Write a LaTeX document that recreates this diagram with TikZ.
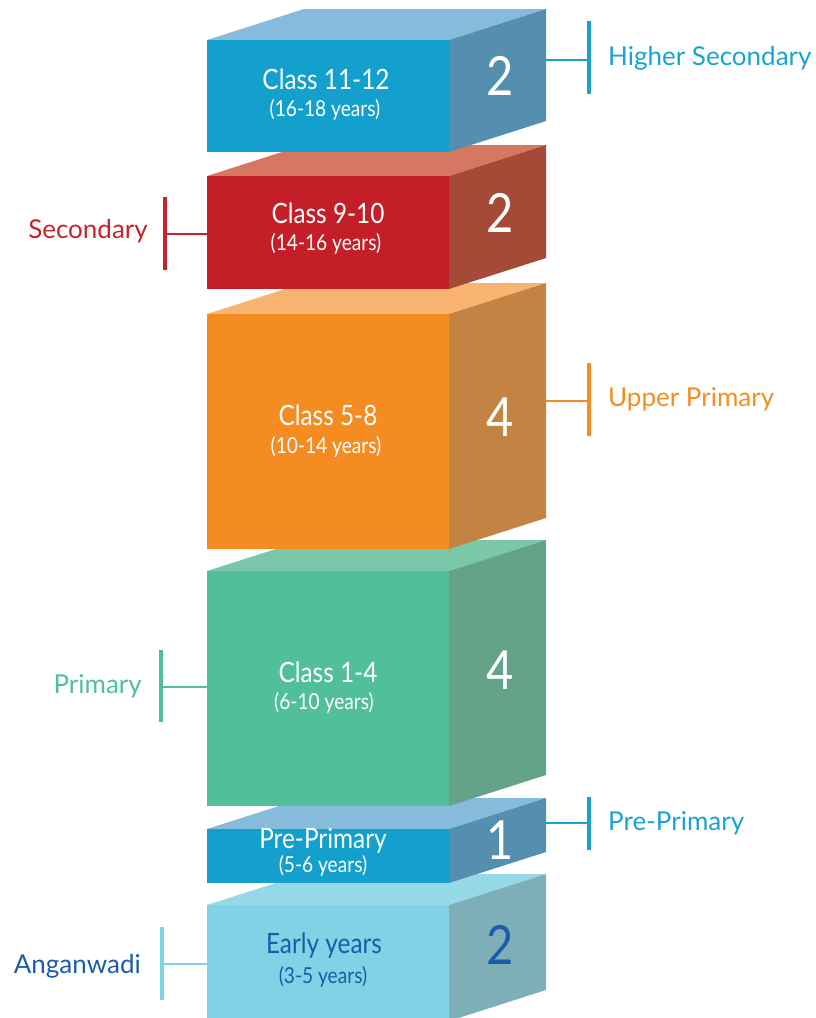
\documentclass[tikz,border=0pt]{standalone}
\usepackage{fontspec}
\setmainfont{Lato}[FakeStretch=0.87]
\newfontfamily\lblfont{Lato}
\definecolor{blueF}{HTML}{14A0CC}\definecolor{blueT}{HTML}{86BBDB}\definecolor{blueS}{HTML}{548FAF}
\definecolor{redF}{HTML}{C41F28}\definecolor{redT}{HTML}{D67861}\definecolor{redS}{HTML}{A44A36}
\definecolor{orF}{HTML}{F58C22}\definecolor{orT}{HTML}{F9B472}\definecolor{orS}{HTML}{C38343}
\definecolor{grF}{HTML}{51BF9C}\definecolor{grT}{HTML}{7AC8A9}\definecolor{grS}{HTML}{64A28A}
\definecolor{cyF}{HTML}{80D2E4}\definecolor{cyT}{HTML}{96D9E6}\definecolor{cyS}{HTML}{7EAEB8}
\definecolor{darkblue}{HTML}{1B5CA8}
\definecolor{lblBlue}{HTML}{1AA3D1}\definecolor{lblRed}{HTML}{C8232B}
\definecolor{lblOr}{HTML}{F58C22}\definecolor{lblGr}{HTML}{4EBF9B}
\newcommand\eduBox[5]{% ytop, ybot, front, top, side
  \fill[#4] (207,#1) -- (449,#1) -- (546,#1-31) -- (304,#1-31) -- cycle;
  \fill[#5] (449,#1) -- (546,#1-31) -- (546,#2-31) -- (449,#2) -- cycle;
  \fill[#3] (207,#1) rectangle (449,#2);
}
\tikzset{
  lineA/.style={inner sep=0pt, font=\fontsize{28}{30}\selectfont},
  lineB/.style={inner sep=0pt, font=\fontsize{22}{24}\selectfont},
  numtxt/.style={inner sep=0pt, font=\fontsize{54}{56}\selectfont},
  lbl/.style={inner sep=0pt, font=\lblfont\fontsize{26}{30}\selectfont},
  bar/.style={line width=4.5pt},
  tick/.style={line width=2.5pt}
}
\begin{document}
\begin{tikzpicture}[x=1pt,y=-1pt]
\useasboundingbox (0,0) rectangle (816,1018);
% boxes, bottom first
\eduBox{905}{1021}{cyF}{cyT}{cyS}
\eduBox{829}{883}{blueF}{blueT}{blueS}
\eduBox{571}{806}{grF}{grT}{grS}
\eduBox{314}{549}{orF}{orT}{orS}
\eduBox{176}{289}{redF}{redT}{redS}
\eduBox{40}{152}{blueF}{blueT}{blueS}
% front texts
\node[lineA,white] (c1a) at (326,79) {Class 11-12};
\node[lineB,white] (c1b) at (325,110) {(16-18 years)};
\node[lineA,white] (c2a) at (328,213) {Class 9-10};
\node[lineB,white] (c2b) at (326,244) {(14-16 years)};
\node[lineA,white] (c3a) at (328,415) {Class 5-8};
\node[lineB,white] (c3b) at (326,447) {(10-14 years)};
\node[lineA,white] (c4a) at (328,672) {Class 1-4};
\node[lineB,white] (c4b) at (324,703) {(6-10 years)};
\node[lineA,white] (c5a) at (323,841) {Pre-Primary};
\node[lineB,white] (c5b) at (323,866) {(5-6 years)};
\node[lineA,darkblue] (c6a) at (324,946) {Early years};
\node[lineB,darkblue] (c6b) at (323,977) {(3-5 years)};
% numbers
\node[numtxt,white] (n1) at (500,76) {2};
\node[numtxt,white] (n2) at (500,213) {2};
\node[numtxt,white] (n3) at (500,417) {4};
\node[numtxt,white] (n4) at (500,670) {4};
\node[numtxt,white] (n5) at (500,840) {1};
\node[numtxt,darkblue] (n6) at (500,945) {2};
% brackets right
\coordinate (s1) at (546,60); \coordinate (b1) at (589,60);
\draw[bar,lblBlue] (589,21) -- (589,94);
\draw[tick,lblBlue] (s1) -- (b1);
\node[lbl,lblBlue,anchor=west] (l1) at (608,58) {Higher Secondary};
\coordinate (s3) at (546,401); \coordinate (b3) at (589,401);
\draw[bar,lblOr] (589,363) -- (589,436);
\draw[tick,lblOr] (s3) -- (b3);
\node[lbl,lblOr,anchor=west] (l3) at (608,399) {Upper Primary};
\coordinate (s5) at (546,823); \coordinate (b5) at (589,823);
\draw[bar,lblBlue] (589,797) -- (589,850);
\draw[tick,lblBlue] (s5) -- (b5);
\node[lbl,lblBlue,anchor=west] (l5) at (608,823) {Pre-Primary};
% brackets left
\coordinate (s2) at (207,234); \coordinate (b2) at (165,234);
\draw[bar,lblRed] (165,197) -- (165,270);
\draw[tick,lblRed] (s2) -- (b2);
\node[lbl,lblRed,anchor=east] (l2) at (148,231) {Secondary};
\coordinate (s4) at (207,687); \coordinate (b4) at (161,687);
\draw[bar,lblGr] (161,650) -- (161,722);
\draw[tick,lblGr] (s4) -- (b4);
\node[lbl,lblGr,anchor=east] (l4) at (142,686) {Primary};
\coordinate (s6) at (207,964); \coordinate (b6) at (162,964);
\draw[bar,cyF] (162,927) -- (162,1000);
\draw[tick,cyF] (s6) -- (b6);
\node[lbl,darkblue,anchor=east] (l6) at (141,966) {Anganwadi};
\end{tikzpicture}
\end{document}
